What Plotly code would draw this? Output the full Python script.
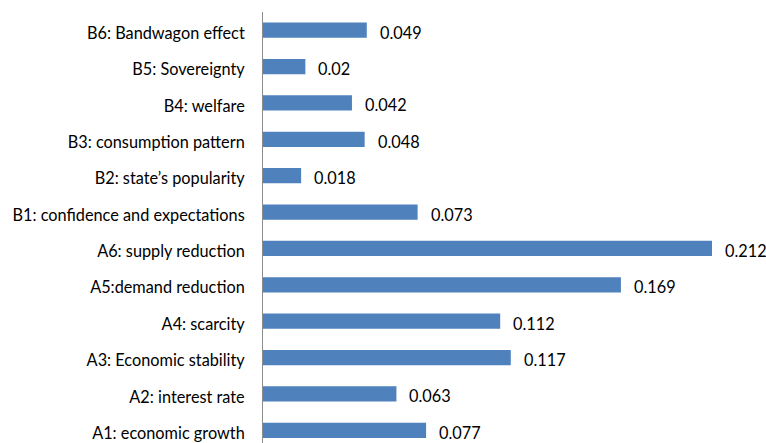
import plotly.graph_objects as go

# Factor weights, listed bottom to top
categories = [
    "A1: economic growth",
    "A2: interest rate",
    "A3: Economic stability",
    "A4: scarcity",
    "A5:demand reduction",
    "A6: supply reduction",
    "B1: confidence and expectations",
    "B2: state\u2019s popularity",
    "B3: consumption pattern",
    "B4: welfare",
    "B5: Sovereignty",
    "B6: Bandwagon effect",
]
weights = [0.077, 0.063, 0.117, 0.112, 0.169, 0.212, 0.073, 0.018, 0.048, 0.042, 0.02, 0.049]
weight_labels = ["0.077", "0.063", "0.117", "0.112", "0.169", "0.212", "0.073", "0.018", "0.048", "0.042", "0.02", "0.049"]

FONT = "Lato"
FONT_SIZE = 16.3
BAR_COLOR = "#4F81BD"

fig = go.Figure(
    go.Bar(
        x=weights,
        y=categories,
        orientation="h",
        marker=dict(color=BAR_COLOR, line=dict(width=0)),
        width=0.42,
        hoverinfo="x+y",
    )
)

# Value labels placed just past the end of each bar
for cat, val, lab in zip(categories, weights, weight_labels):
    fig.add_annotation(
        x=val, y=cat, text=lab, showarrow=False,
        xanchor="left", yanchor="middle", xshift=11, yshift=-2,
        font=dict(family=FONT, size=FONT_SIZE, color="#000000"),
    )

fig.update_layout(
    width=766,
    height=443,
    margin=dict(l=263, r=0, t=12, b=0),
    plot_bgcolor="white",
    paper_bgcolor="white",
    showlegend=False,
    font=dict(family=FONT, size=FONT_SIZE, color="#000000"),
    xaxis=dict(
        range=[0, 0.2375],
        showgrid=False, zeroline=False, showticklabels=False,
        showline=False, ticks="",
    ),
    yaxis=dict(
        type="category",
        categoryorder="array",
        categoryarray=categories,
        range=[-0.35, 11.5],
        showgrid=False, zeroline=False,
        showline=True, linecolor="#8C8C8C", linewidth=1,
        ticks="", ticklabelstandoff=14, ticklabelshift=3,
        tickfont=dict(family=FONT, size=FONT_SIZE, color="#000000"),
    ),
)

fig.write_html("out.html")
